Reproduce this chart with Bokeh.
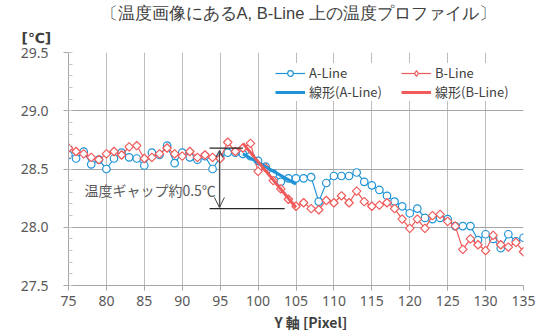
import numpy as np
from bokeh.plotting import figure
from bokeh.models import (Range1d, FixedTicker, NumeralTickFormatter, Label, Arrow,
                          OpenHead, Legend, LegendItem, Title)
from bokeh.embed import file_html
from bokeh.resources import INLINE

# ---------------- data ----------------
x_pixel = list(range(75, 136))
a_line = [28.62, 28.59, 28.65, 28.54, 28.58, 28.50, 28.59, 28.64, 28.60, 28.59,
          28.53, 28.64, 28.62, 28.70, 28.55, 28.64, 28.60, 28.58, 28.61, 28.50,
          28.60, 28.64, 28.64, 28.63, 28.61, 28.57, 28.52, 28.46, 28.39, 28.42,
          28.42, 28.42, 28.43, 28.22, 28.38, 28.44, 28.44, 28.44, 28.47, 28.39,
          28.36, 28.32, 28.27, 28.22, 28.18, 28.12, 28.16, 28.08, 28.07, 28.08,
          28.07, 28.01, 28.01, 28.01, 27.89, 27.94, 27.90, 27.82, 27.94, 27.88,
          27.91]
b_line = [28.68, 28.65, 28.63, 28.60, 28.58, 28.63, 28.65, 28.62, 28.69, 28.70,
          28.59, 28.60, 28.63, 28.68, 28.63, 28.61, 28.65, 28.60, 28.62, 28.60,
          28.59, 28.73, 28.65, 28.68, 28.72, 28.48, 28.51, 28.40, 28.33, 28.24,
          28.18, 28.21, 28.16, 28.15, 28.23, 28.21, 28.27, 28.21, 28.31, 28.22,
          28.18, 28.19, 28.21, 28.16, 28.07, 27.99, 28.07, 27.99, 28.10, 28.11,
          28.05, 28.01, 27.81, 27.90, 27.85, 27.80, 27.93, 27.85, 27.83, 27.87,
          27.79]
fit_x = [98, 105]
fit_a = [28.63, 28.37]
fit_b = [28.72, 28.17]
x_ticks = [75, 80, 85, 90, 95, 100, 105, 110, 115, 120, 125, 130, 135]
y_ticks = [27.5, 28.0, 28.5, 29.0, 29.5]
y_minor = [round(27.5 + 0.1 * k, 1) for k in range(21)]

title_text = "〔温度画像にあるA,  B-Line 上の温度プロファイル〕"
unit_text = "[℃]"
xlabel_text = "Y 軸 [Pixel]"
gap_text = "温度ギャップ約0.5℃"
names = ["A-Line", "B-Line", "線形(A-Line)", "線形(B-Line)"]

BLUE = "#1f93d6"
RED = "#f05a5a"
GRAY_TXT = "#595959"
JP = "Noto Sans CJK JP"

p = figure(width=538, height=334, x_range=Range1d(75, 135), y_range=Range1d(27.5, 29.5),
           output_backend="svg", toolbar_location=None,
           min_border_left=68, min_border_right=15, min_border_top=52, min_border_bottom=49)
p.outline_line_color = None
p.background_fill_color = "white"
p.border_fill_color = "white"

# axes
p.xaxis.ticker = FixedTicker(ticks=x_ticks)
p.yaxis.ticker = FixedTicker(ticks=y_ticks, minor_ticks=y_minor)
p.yaxis.formatter = NumeralTickFormatter(format="0.0")
for ax in (p.xaxis[0], p.yaxis[0]):
    ax.axis_line_color = "#a6a6a6"
    ax.major_tick_line_color = "#a6a6a6"
    ax.major_tick_out = 5
    ax.major_tick_in = 0
    ax.major_label_text_font = "Noto Sans"
    ax.major_label_text_font_size = "14px"
    ax.major_label_text_color = GRAY_TXT
p.xaxis.minor_tick_line_color = None
p.yaxis.minor_tick_line_color = "#c8c8c8"
p.yaxis.minor_tick_in = 4
p.yaxis.minor_tick_out = 0
p.yaxis.major_label_standoff = 15
p.xaxis.major_label_standoff = 5

p.xgrid.grid_line_color = "#bdbdbd"
p.ygrid.grid_line_color = "#a6a6a6"

# data
la = p.line(x_pixel, a_line, line_color=BLUE, line_width=1.2)
sa = p.scatter(x_pixel, a_line, marker="circle", size=7.5, line_color=BLUE,
               fill_color="white", line_width=1.2)
lb = p.line(x_pixel, b_line, line_color=RED, line_width=1.2)
sb = p.scatter(x_pixel, b_line, marker="square", angle=np.pi / 4, size=6, line_color=RED,
               fill_color="white", line_width=1.2)
# legend key only (no visible point)
sb_key = p.scatter(x=[np.nan], y=[np.nan], marker="diamond", size=11, line_color=RED,
                   fill_color="white", line_width=1.2)
fa = p.line(fit_x, fit_a, line_color=BLUE, line_width=3)
fb = p.line(fit_x, fit_b, line_color=RED, line_width=3)

# annotation
p.segment(x0=[93.6, 93.6], y0=[28.68, 28.16], x1=[98.0, 103.5], y1=[28.68, 28.16],
          line_color="#262626", line_width=1.3)
p.add_layout(Arrow(x_start=94.9, y_start=28.66, x_end=94.9, y_end=28.17,
                   start=OpenHead(size=7, line_color="#404040", line_width=1),
                   end=OpenHead(size=10, line_color="#404040", line_width=1),
                   line_color="#404040", line_width=1))
p.add_layout(Label(x=77.1, y=28.32, text=gap_text, text_font=JP, text_font_size="14px",
                   text_color="#595959", text_baseline="middle", text_align="left"))

# titles (inner panel first)
p.add_layout(Title(text=unit_text, align="left", offset=-47, standoff=13,
                   text_font="DejaVu Sans", text_font_size="14px", text_font_style="bold",
                   text_color="#404040"), "above")
p.add_layout(Title(text=title_text, align="left", offset=32, standoff=0,
                   text_font="Liberation Sans", text_font_size="16.5px",
                   text_font_style="normal", text_color="#404040"), "above")
p.add_layout(Title(text=xlabel_text, align="left", offset=206, standoff=3,
                   text_font=JP, text_font_size="14px", text_font_style="bold",
                   text_color="#404040"), "below")

legend = Legend(items=[LegendItem(label=names[0], renderers=[la, sa]),
                       LegendItem(label=names[1], renderers=[lb, sb_key]),
                       LegendItem(label=names[2], renderers=[fa]),
                       LegendItem(label=names[3], renderers=[fb])],
                location=(207, 184), orientation="horizontal", ncols=2,
                label_text_font=JP, label_text_font_size="13px", label_text_color="#404040",
                glyph_width=30, glyph_height=14, label_standoff=4, spacing=0,
                label_width=92, label_height=14,
                padding=3, margin=0, border_line_color=None,
                background_fill_color="white", background_fill_alpha=1.0)
p.add_layout(legend)

open("out.html", "w").write(file_html(p, INLINE))
